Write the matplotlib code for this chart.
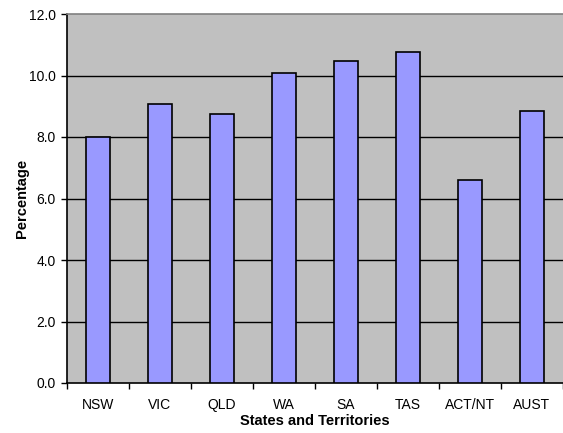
import matplotlib
matplotlib.use("Agg")
import matplotlib.pyplot as plt
import numpy as np

categories = ["NSW", "VIC", "QLD", "WA", "SA", "TAS", "ACT/NT", "AUST"]
values = [8.0, 9.06, 8.74, 10.09, 10.48, 10.77, 6.61, 8.84]
yticks = [0, 2, 4, 6, 8, 10, 12]

plt.rcParams['font.family'] = ['Liberation Sans', 'DejaVu Sans']

fig = plt.figure(figsize=(5.63, 4.33), dpi=100)
W, H = 563, 433
ax = fig.add_axes([67 / W, (H - 383) / H, (563 - 67) / W, (383 - 14) / H])
ax.set_facecolor('#C0C0C0')

x = np.arange(len(categories))
ax.bar(x, values, width=0.4, color='#9999FF', edgecolor='black', linewidth=1.2, zorder=3)

ax.set_xlim(-0.5, len(categories) - 0.5)
ax.set_ylim(0, 12)
ax.set_yticks(yticks)
ax.set_yticklabels([f"{v:.1f}" for v in yticks], fontsize=10)
ax.set_xticks(x)
ax.set_xticklabels(categories, fontsize=10)
ax.set_xticks(np.arange(len(categories) + 1) - 0.5, minor=True)

for v in yticks[1:-1]:
    ax.axhline(v, color='black', linewidth=1.0, zorder=1)

ax.tick_params(axis='x', which='major', length=0, pad=11)
ax.tick_params(axis='x', which='minor', length=4, width=1, direction='out')
ax.tick_params(axis='y', length=4, width=1, direction='out', pad=4)

ax.spines['left'].set_color('black')
ax.spines['left'].set_linewidth(1.2)
ax.spines['bottom'].set_color('black')
ax.spines['bottom'].set_linewidth(1.2)
ax.spines['top'].set_color('#808080')
ax.spines['top'].set_linewidth(1.2)
ax.spines['right'].set_visible(False)

ax.set_xlabel("States and Territories", fontsize=10.5, fontweight='bold', labelpad=1)
ax.set_ylabel("Percentage", fontsize=10.5, fontweight='bold', labelpad=0)

fig.savefig("out.png", dpi=100)
